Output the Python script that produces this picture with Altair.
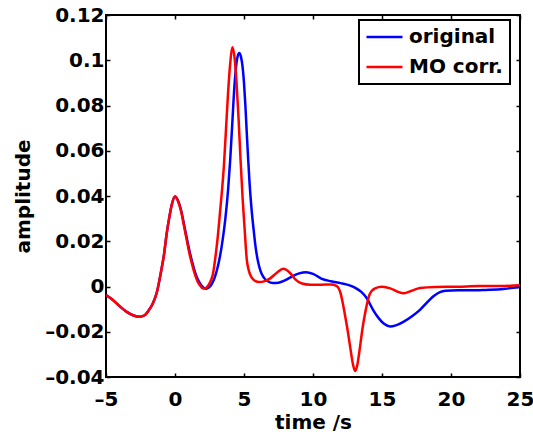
import altair as alt
import pandas as pd

# ---- data ----
series_names = ["original", "MO corr."]
series_colors = ["#0000ff", "#ff0000"]

t_orig = [-5.0, -4.5, -4.0, -3.5, -3.0, -2.6, -2.2, -1.9, -1.6, -1.3, -1.0, -0.8, -0.6, -0.4, -0.2,
          0.0, 0.2, 0.45, 0.65, 0.85, 1.05, 1.25, 1.45, 1.65, 1.85, 2.05, 2.25, 2.45, 2.65, 2.85,
          3.05, 3.25, 3.45, 3.65, 3.85, 4.0, 4.15, 4.3, 4.45, 4.55, 4.66, 4.78, 4.9, 5.0, 5.1,
          5.2, 5.3, 5.4, 5.55, 5.7, 5.85, 6.0, 6.2, 6.45, 6.75, 7.1, 7.5, 8.0, 8.5, 9.0, 9.5,
          10.0, 10.6, 11.3, 12.0, 12.6, 13.1, 13.5, 13.9, 14.35, 14.8, 15.15, 15.6, 16.0, 16.55,
          17.2, 17.75, 18.3, 18.75, 19.2, 19.6, 20.5, 21.4, 22.5, 23.8, 24.5, 25.0]
v_orig = [-0.0038, -0.0060, -0.0088, -0.0112, -0.0128, -0.0134, -0.0127, -0.0105, -0.0074, -0.0022,
          0.0070, 0.0140, 0.0235, 0.0310, 0.0370, 0.0398, 0.0382, 0.0335, 0.0275, 0.0215, 0.0157,
          0.0107, 0.0064, 0.0032, 0.0010, -0.0004, -0.0010, -0.0005, 0.0010, 0.0035, 0.0075,
          0.0130, 0.0205, 0.0300, 0.0430, 0.0560, 0.0720, 0.0880, 0.0985, 0.1020, 0.1032, 0.1015,
          0.0970, 0.0900, 0.0800, 0.0680, 0.0565, 0.0460, 0.0340, 0.0250, 0.0170, 0.0115, 0.0068,
          0.0038, 0.0022, 0.0016, 0.0017, 0.0028, 0.0045, 0.0058, 0.0063, 0.0056, 0.0035, 0.0023,
          0.0015, 0.0006, -0.0007, -0.0024, -0.0052, -0.0103, -0.0143, -0.0165, -0.0177, -0.0172,
          -0.0156, -0.0130, -0.0103, -0.0068, -0.0042, -0.0025, -0.0019, -0.0017, -0.0017, -0.0015,
          -0.0011, -0.0006, -0.0001]

t_mo = [-5.0, -4.5, -4.0, -3.5, -3.0, -2.6, -2.2, -1.9, -1.6, -1.3, -1.0, -0.8, -0.6, -0.4, -0.2,
        0.0, 0.2, 0.45, 0.65, 0.85, 1.05, 1.25, 1.45, 1.65, 1.85, 2.0, 2.15, 2.35, 2.55, 2.75,
        2.95, 3.1, 3.25, 3.4, 3.55, 3.7, 3.85, 4.0, 4.15, 4.3, 4.45, 4.6, 4.75, 4.9, 5.05, 5.2,
        5.35, 5.55, 5.8, 6.1, 6.5, 6.9, 7.4, 7.85, 8.3, 8.7, 9.2, 9.8, 10.6, 11.3, 11.7, 12.0,
        12.3, 12.5, 12.7, 12.9, 13.05, 13.2, 13.4, 13.6, 13.8, 14.1, 14.5, 15.0, 15.6, 16.1,
        16.6, 17.1, 17.75, 18.9, 20.5, 22.0, 23.5, 25.0]
v_mo = [-0.0038, -0.0060, -0.0088, -0.0112, -0.0128, -0.0134, -0.0127, -0.0105, -0.0074, -0.0022,
        0.0070, 0.0140, 0.0235, 0.0310, 0.0370, 0.0398, 0.0380, 0.0330, 0.0268, 0.0205, 0.0145,
        0.0095, 0.0052, 0.0020, 0.0002, -0.0008, -0.0009, 0.0000, 0.0020, 0.0055, 0.0140, 0.0220,
        0.0320, 0.0420, 0.0540, 0.0700, 0.0860, 0.0985, 0.1058, 0.1020, 0.0910, 0.0750, 0.0560,
        0.0390, 0.0250, 0.0120, 0.0070, 0.0040, 0.0025, 0.0020, 0.0024, 0.0036, 0.0062, 0.0078,
        0.0062, 0.0033, 0.0013, 0.0008, 0.0008, 0.0009, 0.0003, -0.0030, -0.0120, -0.0190,
        -0.0270, -0.0345, -0.0374, -0.0350, -0.0270, -0.0180, -0.0110, -0.0035, -0.0008, -0.0001,
        -0.0008, -0.0022, -0.0030, -0.0020, -0.0007, -0.0002, -0.0001, 0.0002, 0.0002, 0.0005]

x_ticks = [-5, 0, 5, 10, 15, 20, 25]
y_ticks = [-0.04, -0.02, 0, 0.02, 0.04, 0.06, 0.08, 0.1, 0.12]
x_title = "time /s"
y_title = "amplitude"

df = pd.concat([
    pd.DataFrame({"time": t_orig, "amp": v_orig, "series": series_names[0]}),
    pd.DataFrame({"time": t_mo, "amp": v_mo, "series": series_names[1]}),
], ignore_index=True)

FONT = "DejaVu Sans"
xscale = alt.Scale(domain=[x_ticks[0], x_ticks[-1]], nice=False, zero=False)
yscale = alt.Scale(domain=[y_ticks[0], y_ticks[-1]], nice=False, zero=False)
label_expr = "replace(replace(format(datum.value, '~g'), '\u2212', '\u2013'), '-', '\u2013')"

lines = alt.Chart(df).mark_line(strokeWidth=2.5, interpolate="monotone", clip=True).encode(
    x=alt.X("time:Q", scale=xscale,
            axis=alt.Axis(values=x_ticks, title=x_title, orient="bottom", offset=-4, tickSize=4,
                          tickWidth=1.5, domain=False, grid=False, labelExpr=label_expr,
                          labelPadding=12, titleBaseline="alphabetic", titleY=55,
                          labelFlush=False, labelOverlap=False)),
    y=alt.Y("amp:Q", scale=yscale,
            axis=alt.Axis(values=y_ticks, title=y_title, orient="left", offset=-4, tickSize=4,
                          tickWidth=1.5, domain=False, grid=False, labelExpr=label_expr,
                          labelPadding=2, titleBaseline="alphabetic", titleX=-81, titleY=181,
                          titleAngle=270, labelFlush=False, labelOverlap=False)),
    color=alt.Color("series:N",
                    scale=alt.Scale(domain=series_names, range=series_colors),
                    legend=alt.Legend(title=None, orient="none", legendX=253, legendY=5,
                                      symbolType="M-2.4,0H2.4", symbolSize=225,
                                      symbolStrokeWidth=2.5, symbolOffset=8.5,
                                      symbolFillColor="transparent",
                                      labelFont=FONT, labelFontSize=20, labelFontWeight="bold",
                                      labelColor="black", labelOffset=14.5, padding=7,
                                      rowPadding=10, strokeColor="black", fillColor="white",
                                      labelLimit=400)),
)

frame = alt.Chart(df).mark_line(opacity=0).encode(
    x=alt.X("time:Q", scale=xscale,
            axis=alt.Axis(values=x_ticks, title="", orient="top", offset=-4, tickSize=4,
                          tickWidth=1.5, domain=False, grid=False, labels=False)),
    y=alt.Y("amp:Q", scale=yscale,
            axis=alt.Axis(values=y_ticks, title="", orient="right", offset=-4, tickSize=4,
                          tickWidth=1.5, domain=False, grid=False, labels=False)),
    detail="series:N",
)

chart = alt.layer(lines, frame).resolve_axis(
    x="independent", y="independent"
).properties(
    width=414, height=362,
    padding={"left": 106, "top": 15, "right": 13, "bottom": 58},
    autosize="none",
).configure_view(
    stroke="black", strokeWidth=2
).configure_axis(
    labelFont=FONT, labelFontSize=20, labelFontWeight="bold", labelColor="black",
    titleFont=FONT, titleFontSize=20, titleFontWeight="bold", titleColor="black",
    tickColor="black",
).configure_legend(
    strokeWidth=2
)

chart.save("out.html", embed_options={"renderer": "svg", "actions": False})
